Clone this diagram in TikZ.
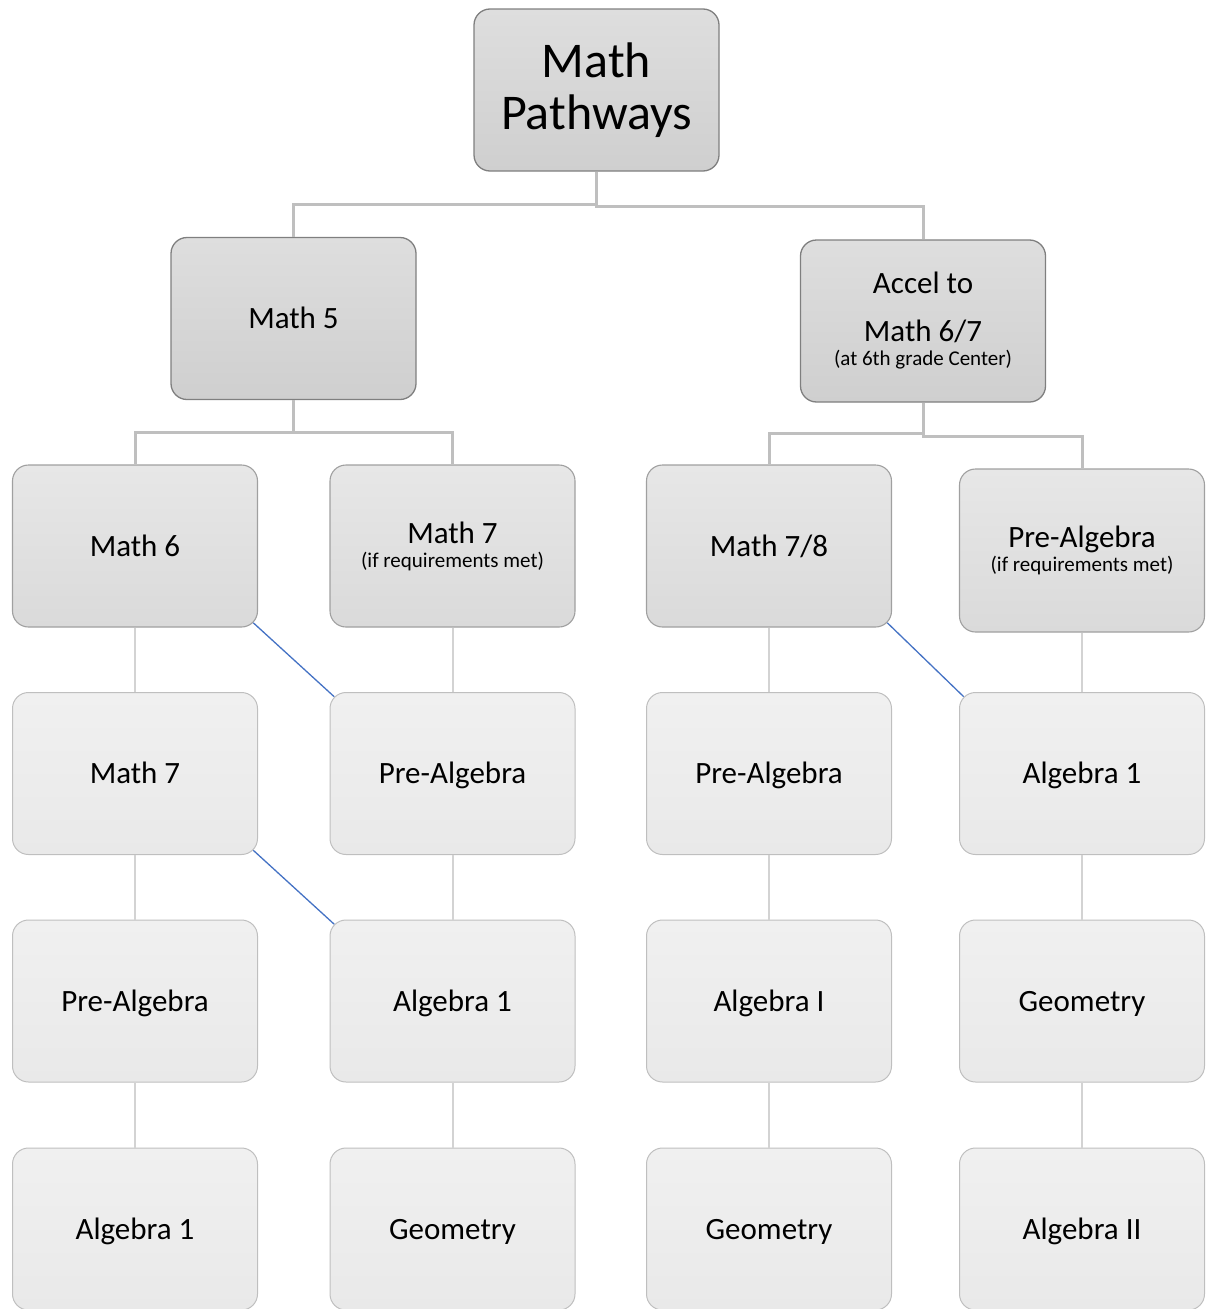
\documentclass[tikz,border=0pt]{standalone}
\usepackage{fontspec}
\setmainfont{Carlito}
\usetikzlibrary{calc}
\definecolor{topfillA}{HTML}{DEDEDE}
\definecolor{topfillB}{HTML}{CFCFCF}
\definecolor{topdraw}{HTML}{7F7F7F}
\definecolor{midfillA}{HTML}{E7E7E7}
\definecolor{midfillB}{HTML}{DADADA}
\definecolor{middraw}{HTML}{A0A0A0}
\definecolor{lowfillA}{HTML}{F0F0F0}
\definecolor{lowfillB}{HTML}{E9E9E9}
\definecolor{lowdraw}{HTML}{BFBFBF}
\definecolor{conncol}{HTML}{BFBFBF}
\definecolor{vconncol}{HTML}{D3D3D3}
\definecolor{bluelink}{HTML}{4472C4}
\tikzset{
  box/.style={rounded corners=16pt, minimum width=245pt, minimum height=162pt,
    inner sep=0pt, align=center, text=black,
    font=\fontsize{31}{38}\selectfont},
  oneline/.style={text height=24pt, text depth=4pt},
  topbox/.style={box, draw=topdraw, line width=1.3pt, top color=topfillA, bottom color=topfillB},
  midbox/.style={box, draw=middraw, line width=1.1pt, top color=midfillA, bottom color=midfillB},
  lowbox/.style={box, oneline, draw=lowdraw, line width=1pt, top color=lowfillA, bottom color=lowfillB},
  conn/.style={draw=conncol, line width=3pt},
  vconn/.style={draw=vconncol, line width=2pt},
  cross/.style={draw=bluelink, line width=1.3pt},
}
\newcommand{\smalltxt}[1]{{\fontsize{21}{24}\selectfont #1}}
\begin{document}
\begin{tikzpicture}[x=1pt, y=-1pt]
\useasboundingbox (0,0) rectangle (1211,1309);
% level 1
\node[topbox, font=\fontsize{50}{52}\selectfont] (title) at (596.5,90) {Math\\Pathways};
% level 2
\node[topbox, oneline] (m5) at (293.5,318.5) {Math 5};
\node[topbox, font=\fontsize{31}{48}\selectfont] (acc) at (923,321) {Accel to\\Math 6/7\\[-24pt]\smalltxt{(at 6th grade Center)}};
% level 3
\node[midbox, oneline] (m6) at (135,546) {Math 6};
\node[midbox] (m7a) at (452.5,546) {Math 7\\[-14pt]\smalltxt{(if requirements met)}};
\node[midbox, oneline] (m78) at (769,546) {Math 7/8};
\node[midbox, minimum height=163pt] (prea) at (1082,550.5) {Pre-Algebra\\[-14pt]\smalltxt{(if requirements met)}};
% level 4
\node[lowbox] (c1r4) at (135,773.5) {Math 7};
\node[lowbox] (c2r4) at (452.5,773.5) {Pre-Algebra};
\node[lowbox] (c3r4) at (769,773.5) {Pre-Algebra};
\node[lowbox] (c4r4) at (1082,773.5) {Algebra 1};
% level 5
\node[lowbox] (c1r5) at (135,1001) {Pre-Algebra};
\node[lowbox] (c2r5) at (452.5,1001) {Algebra 1};
\node[lowbox] (c3r5) at (769,1001) {Algebra I};
\node[lowbox] (c4r5) at (1082,1001) {Geometry};
% level 6
\node[lowbox] (c1r6) at (135,1229) {Algebra 1};
\node[lowbox] (c2r6) at (452.5,1229) {Geometry};
\node[lowbox] (c3r6) at (769,1229) {Geometry};
\node[lowbox] (c4r6) at (1082,1229) {Algebra II};
% elbow connectors
\draw[conn] (title.south) -- ++(0,33) -| (m5.north);
\draw[conn] (title.south) -- ++(0,35) -| (acc.north);
\draw[conn] (m5.south) -- ++(0,32) -| (m6.north);
\draw[conn] (m5.south) -- ++(0,32) -| (m7a.north);
\draw[conn] (acc.south) -- ++(0,31) -| (m78.north);
\draw[conn] (acc.south) -- ++(0,34) -| (prea.north);
% vertical connectors
\draw[vconn] (m6.south) -- (c1r4.north);
\draw[vconn] (c1r4.south) -- (c1r5.north);
\draw[vconn] (c1r5.south) -- (c1r6.north);
\draw[vconn] (m7a.south) -- (c2r4.north);
\draw[vconn] (c2r4.south) -- (c2r5.north);
\draw[vconn] (c2r5.south) -- (c2r6.north);
\draw[vconn] (m78.south) -- (c3r4.north);
\draw[vconn] (c3r4.south) -- (c3r5.north);
\draw[vconn] (c3r5.south) -- (c3r6.north);
\draw[vconn] (prea.south) -- (c4r4.north);
\draw[vconn] (c4r4.south) -- (c4r5.north);
\draw[vconn] (c4r5.south) -- (c4r6.north);
% cross links
\draw[cross] ($(m6.south east)+(-4.7,-4.7)$) -- ($(c2r4.north west)+(4.7,4.7)$);
\draw[cross] ($(c1r4.south east)+(-4.7,-4.7)$) -- ($(c2r5.north west)+(4.7,4.7)$);
\draw[cross] ($(m78.south east)+(-4.7,-4.7)$) -- ($(c4r4.north west)+(4.7,4.7)$);
\end{tikzpicture}
\end{document}
